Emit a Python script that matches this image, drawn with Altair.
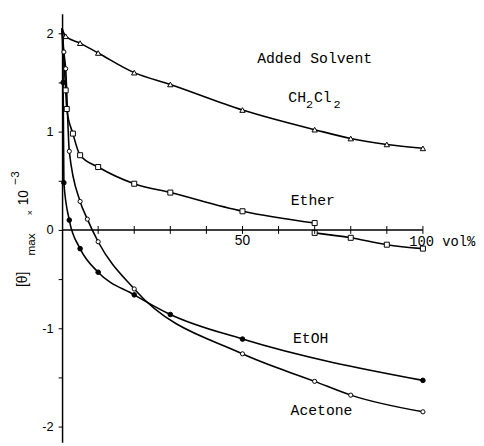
import altair as alt
import pandas as pd

# ---- data ----
ch2cl2_x = [0, 1, 5, 10, 20, 30, 50, 70, 80, 90, 100]
ch2cl2_y = [2.05, 1.97, 1.90, 1.80, 1.60, 1.48, 1.22, 1.02, 0.93, 0.87, 0.83]

ether_x = [0, 1, 1.3, 3, 5, 10, 20, 30, 50, 70]
ether_y = [2.05, 1.42, 1.23, 0.98, 0.76, 0.64, 0.47, 0.38, 0.19, 0.07]
ether2_x = [70, 80, 90, 100]
ether2_y = [-0.03, -0.08, -0.15, -0.19]

etoh_x = [0, 0.3, 0.5, 2, 5, 10, 20, 30, 50, 100]
etoh_y = [2.05, 1.50, 0.48, 0.10, -0.19, -0.43, -0.66, -0.86, -1.11, -1.53]

acetone_x = [0, 0.5, 1, 2, 5, 7, 10, 20, 50, 70, 80, 100]
acetone_y = [2.05, 1.81, 1.64, 0.80, 0.29, 0.11, -0.12, -0.60, -1.26, -1.54, -1.68, -1.85]

x_ticks = [10, 20, 30, 40, 50, 60, 70, 80, 90, 100]
y_ticks = [-2, -1.5, -1, -0.5, 0, 0.5, 1, 1.5, 2]

# annotation texts (data coordinates)
ann_text = ["Added Solvent", "CH", "2", "Cl", "2", "Ether", "EtOH", "Acetone"]
ann_x = [70.0, 62.7, 67.6, 69.8, 75.2, 69.5, 68.9, 71.9]
ann_y = [1.75, 1.35, 1.28, 1.35, 1.28, 0.30, -1.10, -1.83]
ann_size = [15, 15, 12, 15, 12, 15, 15, 15]
ann_align = ["center", "left", "left", "left", "left", "center", "center", "center"]

# y-axis title pieces (rotated, anchored at their lower end)
yt_text = ["[\u03b8]", "max", "\u00d7", "10", "\u22123"]
yt_x = [-10.9, -8.7, -9.0, -10.6, -13.1]
yt_y = [-0.58, -0.26, 0.15, 0.25, 0.46]
yt_size = [14, 12, 9, 14, 12]

# ---- tables ----
rows = []
def add(name, seg, xs, ys):
    for i, (a, b) in enumerate(zip(xs, ys)):
        rows.append({"series": name, "seg": seg, "x": a, "y": b, "o": i})
add("CH2Cl2", "c", ch2cl2_x, ch2cl2_y)
add("Ether", "e1", ether_x, ether_y)
add("Ether", "e2", ether2_x, ether2_y)
add("EtOH", "h", etoh_x, etoh_y)
add("Acetone", "a", acetone_x, acetone_y)
df = pd.DataFrame(rows)
pts = df[df["x"] > 0]

xs = alt.Scale(domain=[0, 100], nice=False, zero=False)
ys = alt.Scale(domain=[-2.16, 2.2], nice=False, zero=False)

base_x = alt.X("x:Q", scale=xs, axis=None)
yaxis = alt.Axis(
    values=y_ticks, labelExpr="datum.value % 1 == 0 ? toString(datum.value) : ''",
    title=None, grid=False, domainColor="black", domainWidth=1.5, tickColor="black",
    tickSize=4, labelPadding=5, labelFont="Liberation Sans", labelFontSize=13,
    labelColor="black",
)

lines = alt.Chart(df).mark_line(interpolate="monotone", color="black", strokeWidth=1.6).encode(
    x=base_x, y=alt.Y("y:Q", scale=ys, axis=yaxis), detail="seg:N", order="o:Q"
)

series_dom = ["CH2Cl2", "Ether", "EtOH", "Acetone"]
points = alt.Chart(pts).mark_point(filled=True, stroke="black", strokeWidth=1, opacity=1).encode(
    x=base_x, y=alt.Y("y:Q", scale=ys),
    shape=alt.Shape("series:N", scale=alt.Scale(domain=series_dom, range=["triangle-up", "square", "circle", "circle"]), legend=None),
    fill=alt.Fill("series:N", scale=alt.Scale(domain=series_dom, range=["white", "white", "black", "white"]), legend=None),
    size=alt.Size("series:N", scale=alt.Scale(domain=series_dom, range=[30, 18, 14, 18]), legend=None),
)

xaxis_df = pd.DataFrame({"x": [0], "x2": [100], "y": [0]})
xaxis = alt.Chart(xaxis_df).mark_rule(color="black", strokeWidth=1.5).encode(
    x=alt.X("x:Q", scale=xs, axis=None), x2="x2:Q", y=alt.Y("y:Q", scale=ys)
)
tick_df = pd.DataFrame({"x": x_ticks, "y1": [-0.04] * len(x_ticks), "y2": [0.04] * len(x_ticks)})
xticks = alt.Chart(tick_df).mark_rule(color="black", strokeWidth=1).encode(
    x=alt.X("x:Q", scale=xs, axis=None), y=alt.Y("y1:Q", scale=ys), y2="y2:Q"
)
xlab_df = pd.DataFrame({"x": [50], "y": [-0.11], "t": ["50"]})
xlab = alt.Chart(xlab_df).mark_text(font="Liberation Sans", fontSize=14, color="black", baseline="middle").encode(
    x=alt.X("x:Q", scale=xs, axis=None), y=alt.Y("y:Q", scale=ys), text="t:N"
)
xlab2_df = pd.DataFrame({"x": [100], "y": [-0.12], "t": ["100 vol%"]})
xlab2 = alt.Chart(xlab2_df).mark_text(font="Liberation Mono", fontSize=14, color="black", align="left", dx=-14, baseline="middle").encode(
    x=alt.X("x:Q", scale=xs, axis=None), y=alt.Y("y:Q", scale=ys), text="t:N"
)

ann_df = pd.DataFrame({"t": ann_text, "x": ann_x, "y": ann_y, "s": ann_size, "al": ann_align})
ann_c = alt.Chart(ann_df[ann_df["al"] == "center"]).mark_text(font="Liberation Mono", color="black", align="center", baseline="middle").encode(
    x=alt.X("x:Q", scale=xs, axis=None), y=alt.Y("y:Q", scale=ys), text="t:N", size=alt.Size("s:Q", scale=None)
)
ann_l = alt.Chart(ann_df[ann_df["al"] == "left"]).mark_text(font="Liberation Mono", color="black", align="left", baseline="middle").encode(
    x=alt.X("x:Q", scale=xs, axis=None), y=alt.Y("y:Q", scale=ys), text="t:N", size=alt.Size("s:Q", scale=None)
)

yt_df = pd.DataFrame({"t": yt_text, "x": yt_x, "y": yt_y, "s": yt_size})
ytitle = alt.Chart(yt_df).mark_text(font="Liberation Sans", color="black", angle=270, align="left", baseline="middle").encode(
    x=alt.X("x:Q", scale=xs, axis=None), y=alt.Y("y:Q", scale=ys), text="t:N", size=alt.Size("s:Q", scale=None)
)

chart = alt.layer(lines, points, xaxis, xticks, xlab, xlab2, ann_c, ann_l, ytitle).properties(
    width=367, height=436,
    autosize=alt.AutoSizeParams(type="none"),
    padding={"left": 55, "top": 2, "right": 54, "bottom": 0},
    background="white",
).configure_view(stroke=None)

chart.save("out.html", embed_options={"renderer": "svg", "actions": False})
